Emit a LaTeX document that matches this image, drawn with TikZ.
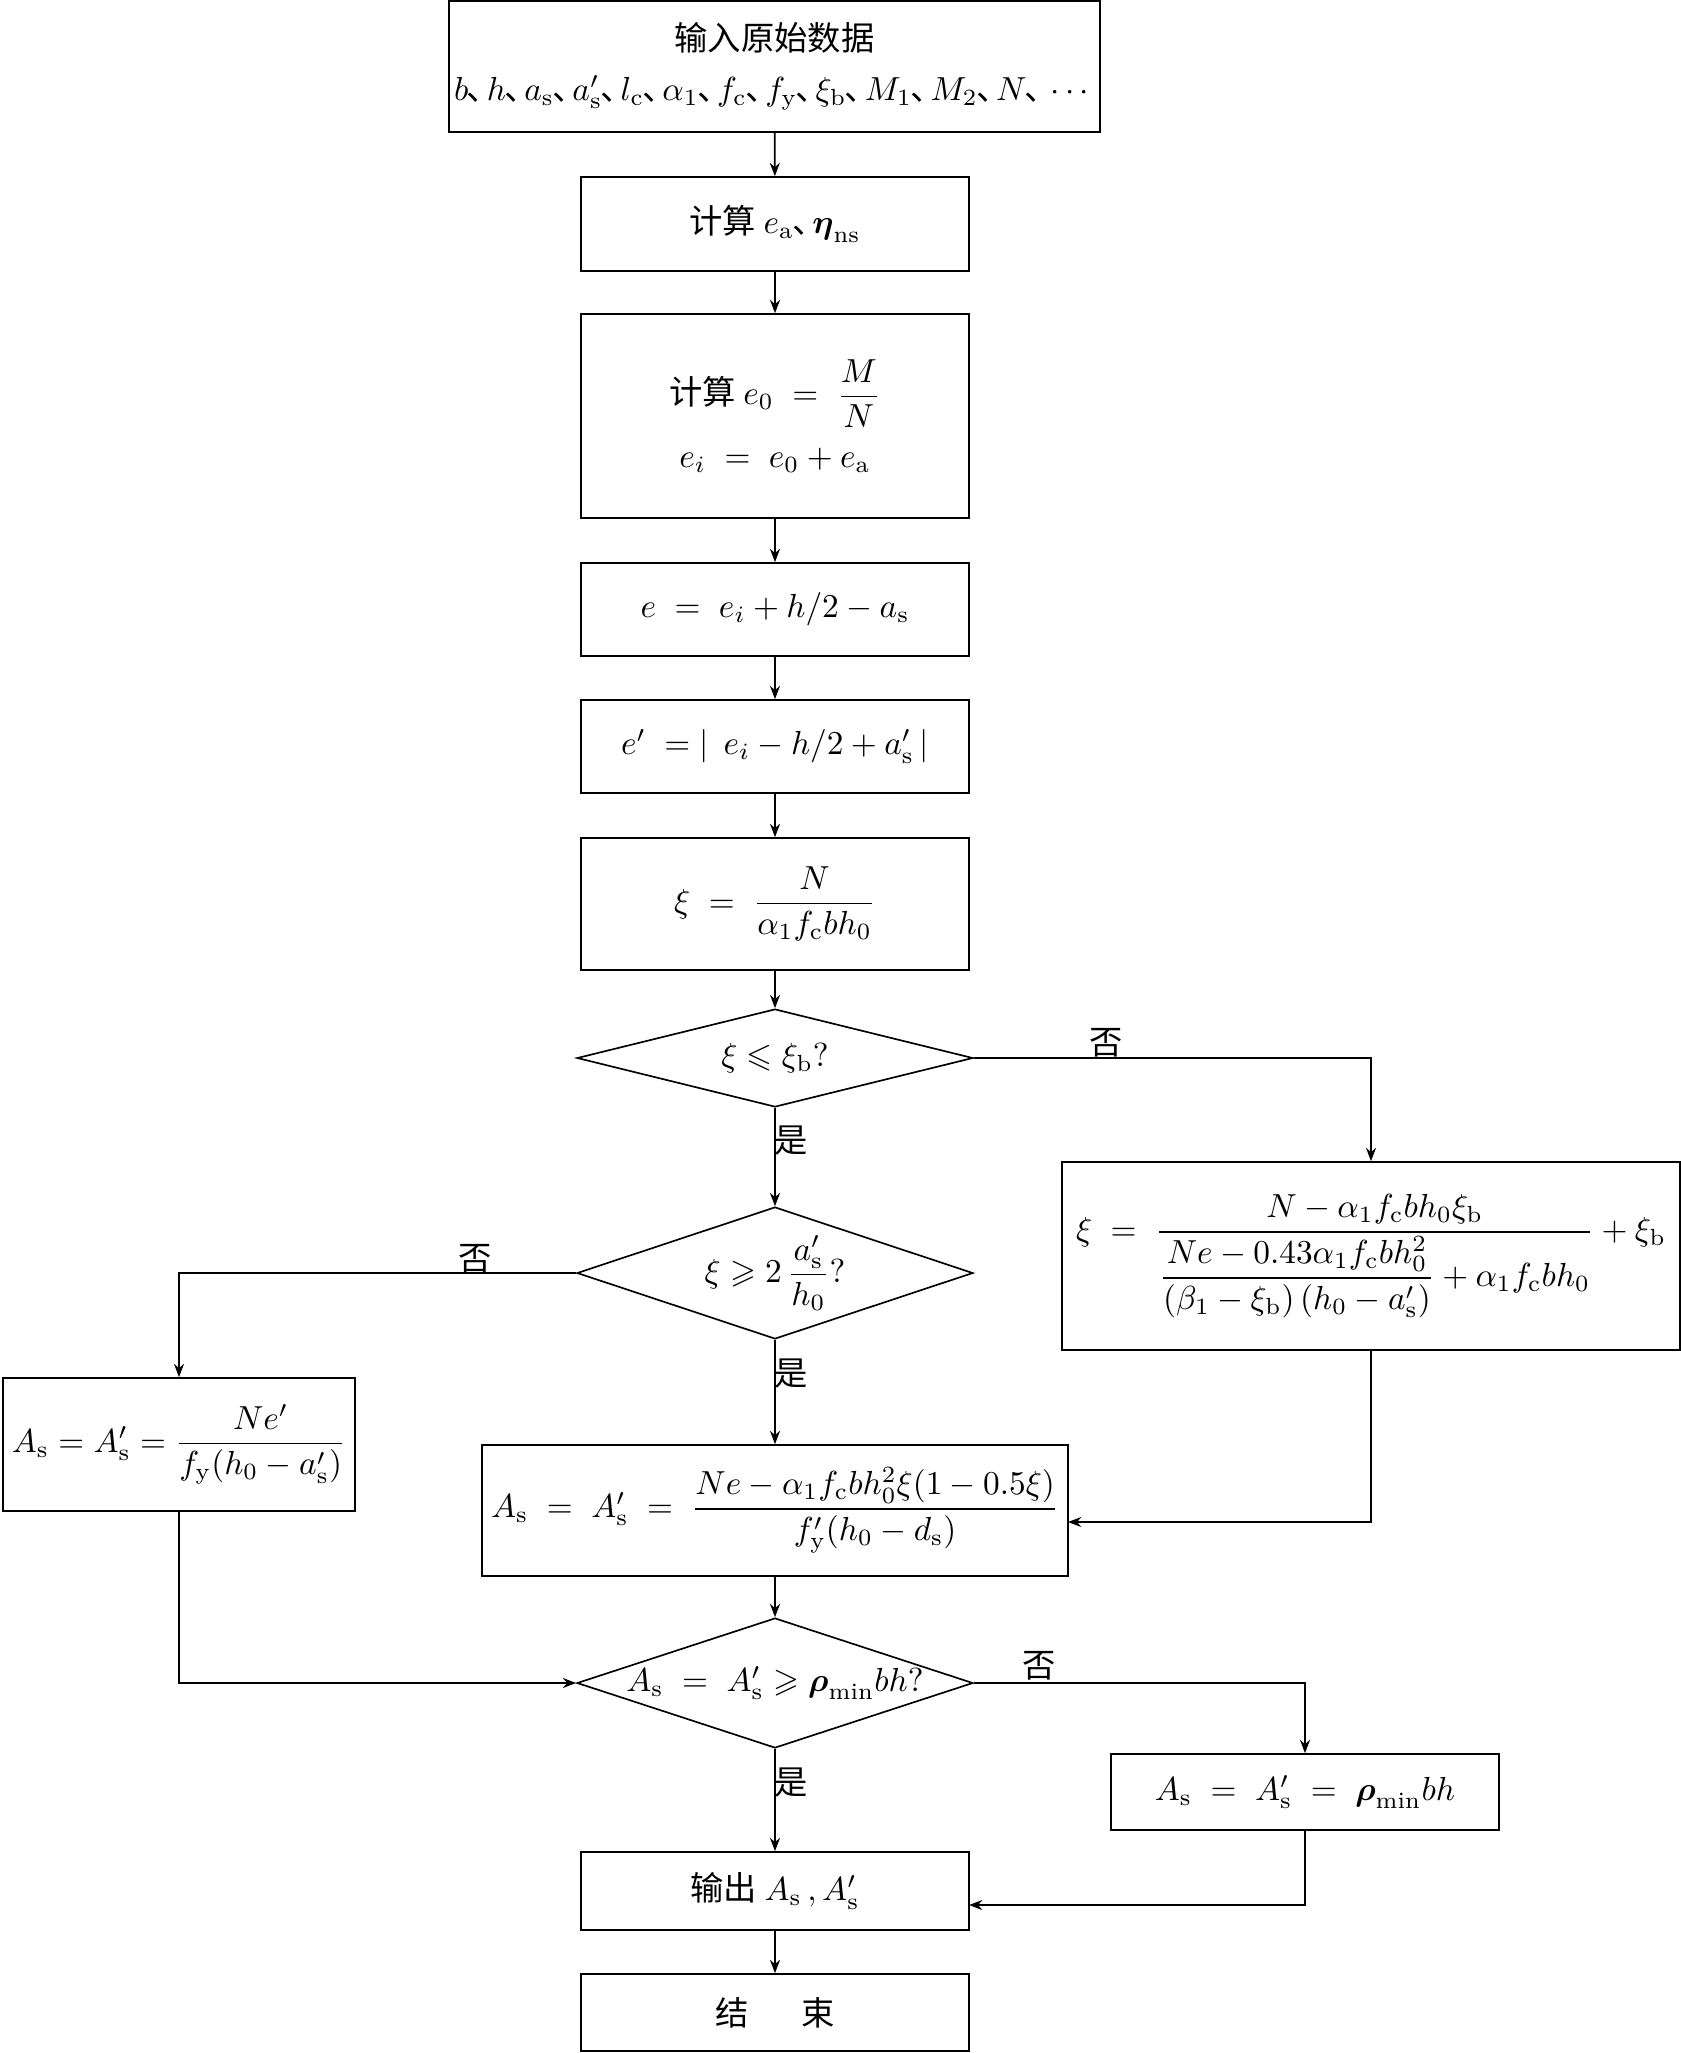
\documentclass[tikz,border=0pt]{standalone}
\usepackage{amsmath,amssymb}
\usepackage{fontspec}
\newfontfamily\cjk{Noto Sans CJK SC}
\usetikzlibrary{shapes.geometric,arrows.meta}
\newcommand\dn{\text{\cjk\kern-0.05em 、\kern-0.4em}}
\newcommand\rs{\mathrm{s}}
\newcommand\eqq{\;=\;}
\begin{document}
\begin{tikzpicture}[x=0.3pt,y=-0.3pt,
  font=\cjk\fontsize{10}{12}\selectfont,
  box/.style={draw,line width=0.5pt,rectangle,inner sep=0pt,align=center},
  dia/.style={draw,line width=0.5pt,diamond,inner sep=0pt},
  arr/.style={line width=0.5pt,-{Stealth[length=4pt,width=3pt]}},
  lab/.style={inner sep=1pt}]
\useasboundingbox (0,0) rectangle (1681,2053);

\node[box,minimum width=195.3pt,minimum height=39.3pt] (b1) at (774.5,66.5)
 {输入原始数据\\[3pt]$b\dn h\dn a_\rs\dn a_\rs'\dn l_\mathrm{c}\dn\alpha_1\dn f_\mathrm{c}\dn f_\mathrm{y}\dn\xi_\mathrm{b}\dn M_1\dn M_2\dn N\dn\cdots$};
\node[box,minimum width=116.4pt,minimum height=28.2pt] (b2) at (775,224)
 {计算 $e_\mathrm{a}\dn\boldsymbol{\eta}_\mathrm{ns}$};
\node[box,minimum width=116.4pt,minimum height=61.2pt] (b3) at (775,416)
 {计算 $e_0 \eqq \dfrac{M}{N}$\\[5pt]$e_i \eqq e_0 + e_\mathrm{a}$};
\node[box,minimum width=116.4pt,minimum height=27.9pt] (b4) at (775,609.5)
 {$e \eqq e_i + h/2 - a_\rs$};
\node[box,minimum width=116.4pt,minimum height=27.9pt] (b5) at (775,746.5)
 {$e' \;=|\;\, e_i - h/2 + a_\rs' \,|$};
\node[box,minimum width=116.4pt,minimum height=39.6pt] (b6) at (775,904)
 {$\xi \eqq \dfrac{N}{\alpha_1 f_\mathrm{c} b h_0}$};

\node[dia,minimum width=118.8pt,minimum height=29.4pt] (d1) at (775,1058) {};
\node (d1t) at (d1.center) {$\xi \leqslant \xi_\mathrm{b}?$};
\node[dia,minimum width=118.8pt,minimum height=39.6pt] (d2) at (775,1273) {};
\node (d2t) at (d2.center) {$\xi \geqslant 2\,\dfrac{a_\rs'}{h_0}?$};

\node[box,minimum width=185.4pt,minimum height=56.4pt] (b7) at (1371,1256)
 {$\xi \eqq \dfrac{N - \alpha_1 f_\mathrm{c} b h_0 \xi_\mathrm{b}}{\dfrac{Ne - 0.43\alpha_1 f_\mathrm{c} b h_0^2}{(\beta_1 - \xi_\mathrm{b})\,(h_0 - a_\rs')} + \alpha_1 f_\mathrm{c} b h_0} + \xi_\mathrm{b}$};
\node[box,minimum width=105.6pt,minimum height=39.9pt] (b8) at (179,1444.5)
 {$A_\rs = A_\rs' = \dfrac{Ne'}{f_\mathrm{y}(h_0 - a_\rs')}$};
\node[box,minimum width=175.8pt,minimum height=39.3pt] (b9) at (775,1510.5)
 {$A_\rs \eqq A_\rs' \eqq \dfrac{Ne - \alpha_1 f_\mathrm{c} b h_0^2 \xi(1 - 0.5\xi)}{f_\mathrm{y}'(h_0 - d_\rs)}$};

\node[dia,minimum width=118.8pt,minimum height=39pt] (d3) at (775,1683) {};
\node (d3t) at (d3.center) {$A_\rs \eqq A_\rs' \geqslant \boldsymbol{\rho}_\mathrm{min} bh?$};

\node[box,minimum width=116.4pt,minimum height=22.8pt] (b10) at (1305,1792)
 {$A_\rs \eqq A_\rs' \eqq \boldsymbol{\rho}_\mathrm{min} bh$};
\node[box,minimum width=116.4pt,minimum height=23.4pt] (b11) at (775,1891)
 {输出 $A_\rs\,,A_\rs'$};
\node[box,minimum width=116.4pt,minimum height=23.1pt] (b12) at (775,2012.5)
 {结\hspace{1.6em}束};

\coordinate (j1) at (1068,1522);
\coordinate (j2) at (969,1905);

\draw[arr] (b1) -- (b2);
\draw[arr] (b2) -- (b3);
\draw[arr] (b3) -- (b4);
\draw[arr] (b4) -- (b5);
\draw[arr] (b5) -- (b6);
\draw[arr] (b6) -- (d1);
\draw[arr] (d1) -- (d2);
\draw[arr] (d1.east) -| (b7.north);
\draw[arr] (d2.west) -| (b8.north);
\draw[arr] (d2) -- (b9);
\draw[arr] (b7.south) |- (j1);
\draw[arr] (b8.south) |- (d3.west);
\draw[arr] (b9) -- (d3);
\draw[arr] (d3.east) -| (b10.north);
\draw[arr] (d3) -- (b11);
\draw[arr] (b10.south) |- (j2);
\draw[arr] (b11) -- (b12);

\node[lab] (l1) at (1106,1043) {否};
\node[lab] (l2) at (791,1141) {是};
\node[lab] (l3) at (475,1259) {否};
\node[lab] (l4) at (791,1374) {是};
\node[lab] (l5) at (1039,1666) {否};
\node[lab] (l6) at (791,1783) {是};
\end{tikzpicture}
\end{document}
